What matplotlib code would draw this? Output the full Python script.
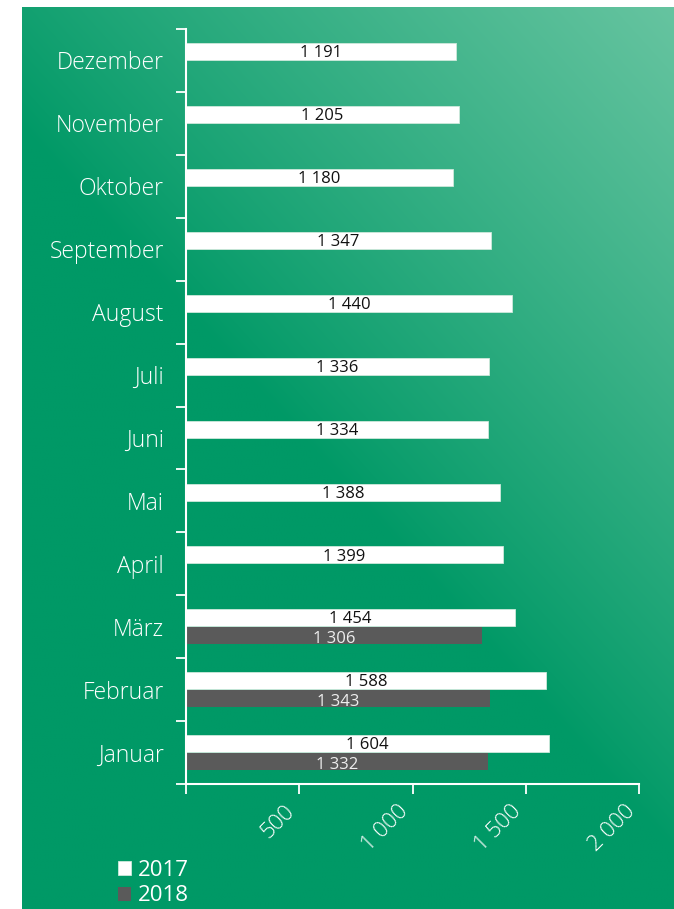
import numpy as np
import matplotlib
matplotlib.use('Agg')
import matplotlib.pyplot as plt
from matplotlib.colors import to_rgb

plt.rcParams['font.family'] = ['Open Sans', 'DejaVu Sans']

# data
months = ['Januar', 'Februar', 'März', 'April', 'Mai', 'Juni', 'Juli',
          'August', 'September', 'Oktober', 'November', 'Dezember']
v2017 = [1604, 1588, 1454, 1399, 1388, 1334, 1336, 1440, 1347, 1180, 1205, 1191]
v2018 = [1332, 1343, 1306]
xticks = [0, 500, 1000, 1500, 2000]
xticklabels = ['', '500', '1 000', '1 500', '2 000']
series_names = ['2017', '2018']

W, H = 674, 909
fig = plt.figure(figsize=(W / 100, H / 100), dpi=100)
fig.patch.set_facecolor('white')

# green gradient panel
bg = fig.add_axes([22 / W, 0, (W - 22) / W, (H - 7) / H])
bg.set_axis_off()
nx, ny = 200, 260
xx, yy = np.meshgrid(np.linspace(0, 1, nx), np.linspace(0, 1, ny))
u = (0.8 * xx + yy) / 1.8  # yy = 1 at top (origin lower)
t = np.clip((u - 0.48) / 0.52, 0, 1) ** 0.9
dark = np.array(to_rgb('#009966'))
light = np.array(to_rgb('#66c4a0'))
img = dark[None, None, :] + (light - dark)[None, None, :] * t[..., None]
bg.imshow(img, origin='lower', aspect='auto', extent=[0, 1, 0, 1], interpolation='bilinear')
bg.set_xlim(0, 1)
bg.set_ylim(0, 1)

# main axes
ax = fig.add_axes([186 / W, (H - 784) / H, (639 - 186) / W, (784 - 29) / H])
ax.patch.set_alpha(0)

y = np.arange(len(months))
off, bh = 0.14, 0.27
b1 = ax.barh(y + off, v2017, height=bh, color='white', edgecolor='#cfe9dc', linewidth=0.6, label=series_names[0])
b2 = ax.barh(y[:len(v2018)] - off, v2018, height=bh, color='#5a5a5a', linewidth=0, label=series_names[1])

def fmt(v):
    return '{:,}'.format(v).replace(',', ' ')

for yi, v in zip(y, v2017):
    ax.text(v / 2, yi + off - 0.025, fmt(v), ha='center', va='center', fontsize=12, color='#111111')
for yi, v in zip(y, v2018):
    ax.text(v / 2, yi - off - 0.06, fmt(v), ha='center', va='center', fontsize=12, color='#eeeeee')

ax.set_xlim(0, 2000)
ax.set_ylim(-0.5, 11.5)
ax.set_xticks(xticks)
ax.set_xticklabels(xticklabels, rotation=45, ha='right', fontsize=16, color='white', fontweight='light')
ax.set_yticks(y)
ax.set_yticklabels(months, fontsize=16.5, color='white', fontweight='light')
ax.set_yticks(np.arange(-0.5, 12, 1), minor=True)
ax.tick_params(axis='y', which='major', length=0, pad=16)
ax.tick_params(axis='y', which='minor', length=7, width=1.3, color='white')
ax.tick_params(axis='x', length=7, width=1.3, color='white', pad=5)
for side in ['top', 'right']:
    ax.spines[side].set_visible(False)
for side in ['left', 'bottom']:
    ax.spines[side].set_color('white')
    ax.spines[side].set_linewidth(1.5)

leg = ax.legend(handles=[b1, b2], loc='upper left', bbox_to_anchor=(118 / W, 1 - 860 / H),
                bbox_transform=fig.transFigure, frameon=False, fontsize=16, labelcolor='white',
                handlelength=0.6, handleheight=0.6, handletextpad=0.3, labelspacing=0.2,
                borderpad=0, borderaxespad=0)

fig.savefig('out.png', dpi=100)
